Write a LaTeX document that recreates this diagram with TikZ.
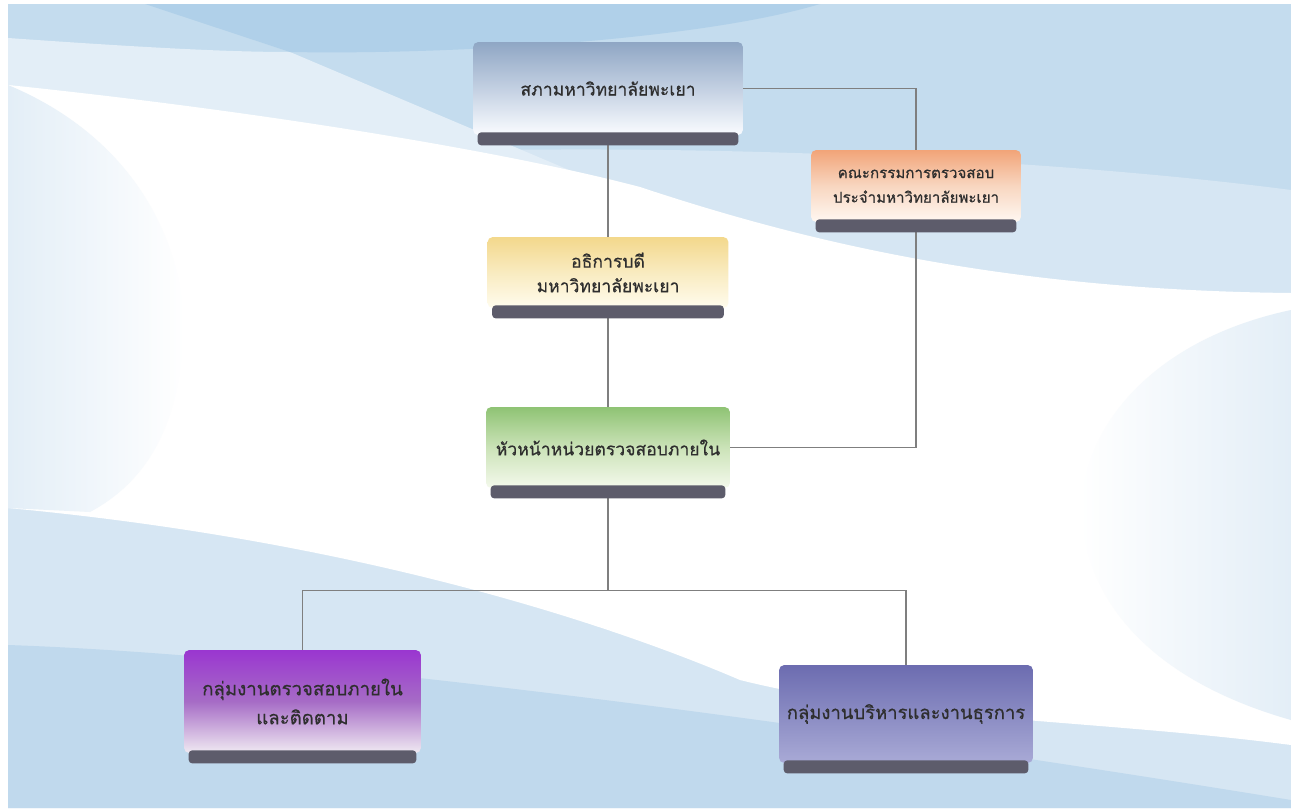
\documentclass[tikz,border=0pt]{standalone}
\usepackage{fontspec}
\newfontfamily\thaifont[Script=Thai, FakeBold=0.6]{Loma}
\usetikzlibrary{calc}

\definecolor{bgdeep}{HTML}{B0D0E9}
\definecolor{bgmid}{HTML}{C4DCEE}
\definecolor{bglow}{HTML}{C0D9ED}
\definecolor{bgsoft}{HTML}{D6E6F3}
\definecolor{bgpale}{HTML}{E3EEF7}
\definecolor{barcol}{HTML}{5D5C6B}
\definecolor{linecol}{HTML}{7F7F7F}
% unit colours: top / middle / bottom
\definecolor{councilA}{HTML}{8FA6C4}\definecolor{councilB}{HTML}{C3D0E2}\definecolor{councilC}{HTML}{FAFCFF}
\definecolor{auditA}{HTML}{F2A478}\definecolor{auditB}{HTML}{F8D6C0}\definecolor{auditC}{HTML}{FFF8F2}
\definecolor{rectorA}{HTML}{F3D88C}\definecolor{rectorB}{HTML}{F9EBC0}\definecolor{rectorC}{HTML}{FFFCEE}
\definecolor{headA}{HTML}{8FC374}\definecolor{headB}{HTML}{CBE3B8}\definecolor{headC}{HTML}{F4F9EC}
\definecolor{checkA}{HTML}{9A36D0}\definecolor{checkB}{HTML}{A66CC6}\definecolor{checkC}{HTML}{F0EAF2}
\definecolor{adminA}{HTML}{6C6CB0}\definecolor{adminB}{HTML}{8A8BC3}\definecolor{adminC}{HTML}{A9AAD6}

\newcommand{\unitbar}[1]{%
  \fill[barcol, rounded corners=2pt] ($(#1.south west)+(5,-3)$) rectangle ($(#1.south east)+(-5,10)$);}

\begin{document}
\begin{tikzpicture}[x=0.02cm, y=-0.02cm,
    every node/.style={font=\thaifont\fontsize{10}{14}\selectfont, text=black!82},
    unit/.style={rounded corners=3pt, align=center, inner sep=0pt},
    link/.style={draw=linecol, line width=0.6pt}]

    \useasboundingbox (0,0) rectangle (1291,808);

    % Background
    \fill[white] (0,0) rectangle (1291,808);
    \fill[bgmid] (8,4) rectangle (1291,808);
    \fill[bgsoft] (8,470) -- (1291,680) -- (1291,808) -- (8,808) -- cycle;
    \fill[bgsoft] (500,150) .. controls (800,146) and (1100,165) .. (1291,190) -- (1291,320) -- (500,320) -- cycle;
    \fill[bgpale] (8,38) .. controls (150,48) and (230,52) .. (290,52) -- (640,200) -- (8,90) -- cycle;
    \fill[bgdeep] (145,4) -- (820,4) .. controls (700,40) and (450,55) .. (290,52) -- cycle;
    \fill[bglow] (8,645) .. controls (300,655) and (800,720) .. (1291,800) -- (1291,808) -- (8,808) -- cycle;
    \fill[white] (8,85) .. controls (250,110) and (500,150) .. (640,187) .. controls (800,240) and (1000,290) .. (1291,293)
        -- (1291,745) .. controls (1100,720) and (900,720) .. (740,680) .. controls (600,620) and (350,540) .. (8,508) -- cycle;
    \shade[left color=bgpale, right color=white] (8,85) .. controls (140,140) and (185,250) .. (183,330)
        .. controls (181,420) and (150,480) .. (90,512) -- (8,508) -- cycle;
    \shade[left color=white, right color=bgpale] (1291,310) .. controls (1150,340) and (1080,430) .. (1082,513)
        .. controls (1085,600) and (1150,680) .. (1291,720) -- cycle;

    % Units
    \node[unit, top color=councilA, bottom color=councilC, middle color=councilB,
          minimum width=5.4cm, minimum height=1.86cm] (council) at (608,88.5) {สภามหาวิทยาลัยพะเยา};
    \node[unit, top color=auditA, bottom color=auditC, middle color=auditB,
          minimum width=4.2cm, minimum height=1.44cm, font=\thaifont\fontsize{8.6}{14}\selectfont] (audit) at (916,186)
          {คณะกรรมการตรวจสอบ\\ประจำมหาวิทยาลัยพะเยา};
    \node[unit, top color=rectorA, bottom color=rectorC, middle color=rectorB,
          minimum width=4.82cm, minimum height=1.42cm] (rector) at (608,272.5) {อธิการบดี\\มหาวิทยาลัยพะเยา};
    \node[unit, top color=headA, bottom color=headC, middle color=headB,
          minimum width=4.88cm, minimum height=1.62cm] (head) at (608,447.5) {หัวหน้าหน่วยตรวจสอบภายใน};
    \node[unit, top color=checkA, bottom color=checkC, middle color=checkB,
          minimum width=4.74cm, minimum height=2.06cm, font=\thaifont\fontsize{10.6}{16.5}\selectfont] (checkgrp) at (302.5,701.5)
          {กลุ่มงานตรวจสอบภายใน\\และติดตาม};
    \node[unit, top color=adminA, bottom color=adminC, middle color=adminB,
          minimum width=5.08cm, minimum height=1.96cm, font=\thaifont\fontsize{10.5}{16.5}\selectfont] (admingrp) at (906,714)
          {กลุ่มงานบริหารและงานธุรการ};

    % Connectors
    \draw[link] (council.south) -- (rector.north);
    \draw[link] (rector.south) -- (head.north);
    \draw[link] (council.east) -| (audit.north);
    \draw[link] (audit.south) |- (head.east);
    \coordinate (split) at ($(head.south)+(0,102)$);
    \draw[link] (head.south) -- (split);
    \draw[link] (checkgrp.north) |- (split) -| (admingrp.north);

    % Bars under the units
    \unitbar{council}
    \unitbar{audit}
    \unitbar{rector}
    \unitbar{head}
    \unitbar{checkgrp}
    \unitbar{admingrp}

\end{tikzpicture}
\end{document}
